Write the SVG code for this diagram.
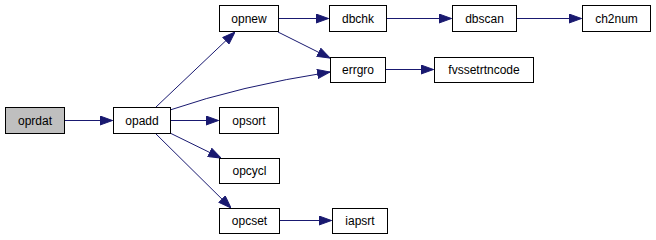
<svg xmlns="http://www.w3.org/2000/svg" width="656" height="240" viewBox="0 0 656 240">
  <style>
    .node rect { fill: #ffffff; stroke: #000000; stroke-width: 1; }
    .node.root rect { fill: #bfbfbf; }
    .node text { font-family: "Liberation Sans", Arial, sans-serif; font-size: 12px; fill: #000000; text-anchor: middle; }
    .edges path { fill: none; stroke: #191970; stroke-width: 1; }
  </style>
  <defs>
    <marker id="arrow" markerWidth="13" markerHeight="10" refX="13" refY="5" orient="auto" markerUnits="userSpaceOnUse">
      <path d="M0.5,0.5 L13,5 L0.5,9.5 Z" fill="#191970" stroke="#191970" stroke-width="1"/>
    </marker>
  </defs>
  <rect width="656" height="240" fill="#ffffff"/>

  <!-- call edges -->
  <g class="edges">
    <path d="M64.5,120.5 L112.5,120.5" marker-end="url(#arrow)"/>
    <path d="M156,107 L235,32" marker-end="url(#arrow)"/>
    <path d="M170,110 Q240,86 330,72" marker-end="url(#arrow)"/>
    <path d="M170.5,120.5 L218.5,120.5" marker-end="url(#arrow)"/>
    <path d="M170,133 L221,158" marker-end="url(#arrow)"/>
    <path d="M155,133 L231,208" marker-end="url(#arrow)"/>
    <path d="M278.5,18.5 L328.5,18.5" marker-end="url(#arrow)"/>
    <path d="M278,32 L330,58" marker-end="url(#arrow)"/>
    <path d="M279.5,220.5 L331.5,220.5" marker-end="url(#arrow)"/>
    <path d="M386.5,18.5 L451.5,18.5" marker-end="url(#arrow)"/>
    <path d="M516.5,18.5 L581.5,18.5" marker-end="url(#arrow)"/>
    <path d="M385.5,69.5 L433.5,69.5" marker-end="url(#arrow)"/>
  </g>

  <g id="oprdat" class="node root">
    <rect x="5.5" y="107.5" width="59" height="26"/>
    <text x="35" y="125">oprdat</text>
  </g>
  <g id="opadd" class="node">
    <rect x="113.5" y="107.5" width="57" height="26"/>
    <text x="142" y="125">opadd</text>
  </g>
  <g id="opnew" class="node">
    <rect x="219.5" y="5.5" width="59" height="26"/>
    <text x="249" y="23">opnew</text>
  </g>
  <g id="opsort" class="node">
    <rect x="219.5" y="107.5" width="59" height="26"/>
    <text x="249" y="125">opsort</text>
  </g>
  <g id="opcycl" class="node">
    <rect x="219.5" y="158.5" width="60" height="25"/>
    <text x="249.5" y="175">opcycl</text>
  </g>
  <g id="opcset" class="node">
    <rect x="219.5" y="208.5" width="60" height="25"/>
    <text x="249.5" y="225">opcset</text>
  </g>
  <g id="dbchk" class="node">
    <rect x="329.5" y="5.5" width="57" height="26"/>
    <text x="358" y="23">dbchk</text>
  </g>
  <g id="errgro" class="node">
    <rect x="330.5" y="57.5" width="55" height="25"/>
    <text x="358" y="74">errgro</text>
  </g>
  <g id="iapsrt" class="node">
    <rect x="332.5" y="208.5" width="55" height="25"/>
    <text x="360" y="225">iapsrt</text>
  </g>
  <g id="dbscan" class="node">
    <rect x="452.5" y="5.5" width="64" height="26"/>
    <text x="484.5" y="23">dbscan</text>
  </g>
  <g id="ch2num" class="node">
    <rect x="582.5" y="5.5" width="68" height="26"/>
    <text x="616.5" y="23">ch2num</text>
  </g>
  <g id="fvssetrtncode" class="node">
    <rect x="434.5" y="57.5" width="99" height="25"/>
    <text x="484" y="74">fvssetrtncode</text>
  </g>
</svg>
